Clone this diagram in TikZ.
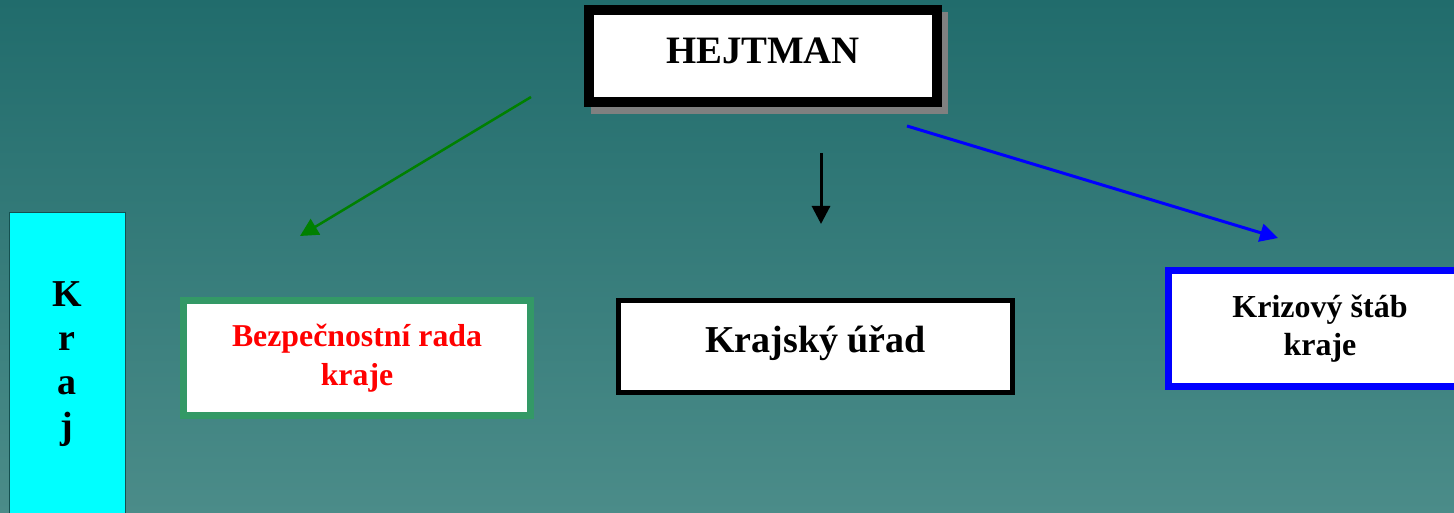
\documentclass[tikz,border=0pt]{standalone}
\usepackage{fontspec}
\setmainfont{Liberation Serif}
\usetikzlibrary{arrows.meta}
\definecolor{bgtop}{RGB}{33,108,108}
\definecolor{bgbot}{RGB}{75,140,137}
\definecolor{radagreen}{RGB}{51,153,102}
\definecolor{krajline}{RGB}{20,80,80}
\definecolor{krajcyan}{RGB}{0,255,255}

\begin{document}
\begin{tikzpicture}[x=0.5pt,y=-0.5pt]
\tikzstyle{every node}=[rectangle, inner sep=0pt, fill=white, align=center, font=\bfseries]
\tikzstyle{arr}=[-{Triangle[length=9pt,width=9pt]}]
\useasboundingbox (0,0) rectangle (1454,513);
\shade[top color=bgtop, bottom color=bgbot] (0,0) rectangle (1454,513);
\fill[gray] (591,12) rectangle (948,114);
\draw (763,56) node (hejtman) [draw, line width=5pt, minimum width=174pt, minimum height=46pt, font=\bfseries\fontsize{19.4}{23}\selectfont, text height=13pt, text depth=5pt] {HEJTMAN};
\draw (67,364) node (kraj) [draw=krajline, line width=0.5pt, fill=krajcyan, minimum width=58pt, minimum height=151pt, font=\bfseries\fontsize{19}{22}\selectfont] {K\\r\\a\\j};
\draw (357,358) node (rada) [draw=radagreen, line width=3.5pt, minimum width=173.5pt, minimum height=57.5pt, text=red, font=\bfseries\fontsize{15.9}{19.5}\selectfont] {Bezpečnostní rada\\kraje};
\draw (815.5,346.5) node (urad) [draw, line width=2.5pt, minimum width=197pt, minimum height=46pt, font=\bfseries\fontsize{19}{23}\selectfont, text height=13.5pt, text depth=8pt] {Krajský úřad};
\draw (1320,328.5) node (stab) [draw=blue, line width=3.5pt, minimum width=151.5pt, minimum height=58pt, font=\bfseries\fontsize{16}{19}\selectfont] {Krizový štáb\\kraje};
\coordinate (g1) at (531,97);
\coordinate (g2) at (300,236);
\coordinate (k1) at (821,153);
\coordinate (k2) at (821,224);
\coordinate (b1) at (907,126);
\coordinate (b2) at (1278,238);
\draw[arr, green!50!black, line width=1.25pt] (g1) -- (g2);
\draw[arr, black, line width=1.5pt] (k1) -- (k2);
\draw[arr, blue, line width=1.5pt] (b1) -- (b2);
\end{tikzpicture}
\end{document}
